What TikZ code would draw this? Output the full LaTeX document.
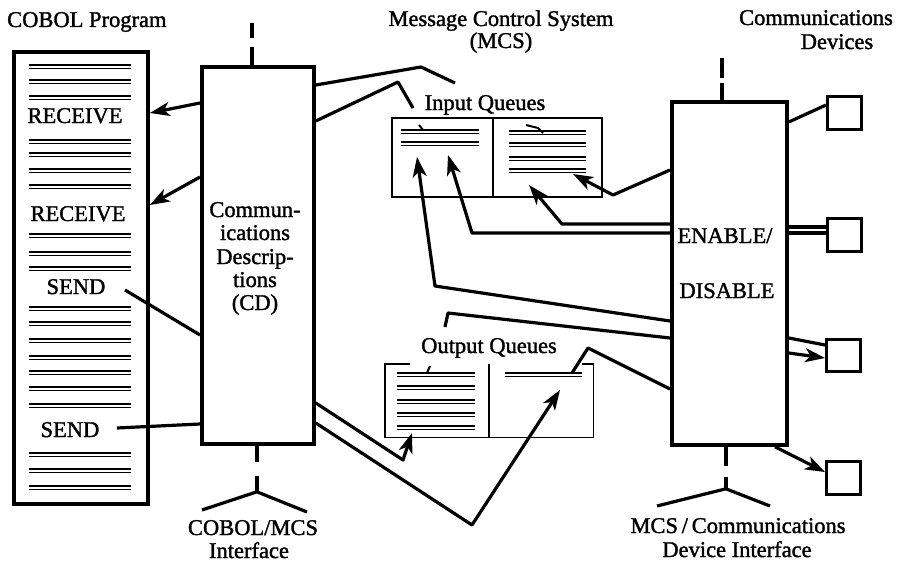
\documentclass[tikz,border=0pt]{standalone}
\usepackage{fontspec}
\setmainfont{Liberation Serif}[FakeBold=1.5]
\usetikzlibrary{arrows.meta}

% a listing line: heavy rule with a hairline just below it
\newcommand\qline[4][2.1pt]{%
  \draw[line width=#1] (#2,#4) -- (#3,#4);
  \draw[line width=1.3pt] (#2,#4+3.4) -- (#3,#4+3.4);}

\begin{document}
\begin{tikzpicture}[x=1pt,y=-1pt,
  lbl/.style={font=\fontsize{22.5}{24}\selectfont, inner sep=0pt, anchor=base},
  bigbox/.style={draw, line width=3.8pt, inner sep=0pt, anchor=north west},
  queue/.style={inner sep=0pt, anchor=north west},
  thin/.style={line width=1.5pt},
  dev/.style={draw, line width=3.2pt, inner sep=0pt, anchor=north west},
  wire/.style={line width=3.2pt, line join=round},
  arr/.style={wire, -{Stealth[length=20pt,width=14pt,inset=5.5pt]}},
]
\fill[white] (0,0) rectangle (906,562);
\useasboundingbox (0,0) rectangle (906,562);

% ---- headings
\node[lbl, anchor=base west] (hcobol) at (7,27) {COBOL Program};
\node[lbl] (hmcs1) at (501,26) {Message Control System};
\node[lbl] (hmcs2) at (501,48) {(MCS)};
\node[lbl] (hdev1) at (816,25) {Communications};
\node[lbl] (hdev2) at (837,49) {Devices};

% ---- COBOL program listing
\node[bigbox, minimum width=134pt, minimum height=452pt] (cobol) at (12,50) {};
\foreach \y in {65,80,96,140,153,169,185,234,252,267,307,322,339,356,371,387,404,453,469,486}
  {\qline{29}{131}{\y}}
\node[lbl] (rcv1) at (75,123) {RECEIVE};
\node[lbl] (rcv2) at (78,221) {RECEIVE};
\node[lbl] (snd1) at (76,294) {SEND};
\node[lbl] (snd2) at (70,437) {SEND};

% ---- communications descriptions
\node[bigbox, minimum width=112pt, minimum height=377pt] (cd) at (200,65) {};
\node[lbl] (cdl1) at (255,217) {Commun-};
\node[lbl] (cdl2) at (255,240) {ications};
\node[lbl] (cdl3) at (255,264) {Descrip-};
\node[lbl] (cdl4) at (255,287) {tions};
\node[lbl] (cdl5) at (255,310) {(CD)};

% ---- enable / disable
\node[bigbox, minimum width=115pt, minimum height=343pt] (enable) at (670,100) {};
\node[lbl] (en1) at (725,243) {ENABLE/};
\node[lbl] (en2) at (727,298) {DISABLE};

% ---- devices
\node[dev, minimum width=34pt, minimum height=33pt] (d1) at (826,95) {};
\node[dev, minimum width=34pt, minimum height=33pt] (d2) at (826,217) {};
\node[dev, minimum width=34pt, minimum height=32pt] (d3) at (825,338) {};
\node[dev, minimum width=34pt, minimum height=33pt] (d4) at (825,460) {};

% ---- input queues
\node[queue, draw, thin, minimum width=210pt, minimum height=79pt] (inq) at (391,117) {};
\draw[thin] (inq.north -| 493,0) -- (inq.south -| 493,0);
\foreach \y in {130,142} {\qline{401}{479}{\y}}
\foreach \y in {131,143,157,169} {\qline{509}{586}{\y}}
\draw[line width=2pt] (419,125) -- (423,130);
\draw[line width=2pt] (526,125) -- (538,128) -- (543,133);
\node[lbl] (hin) at (485,110) {Input Queues};

% ---- output queues (top edge only at the corners)
\node[queue, minimum width=208pt, minimum height=73pt] (outq) at (385,364) {};
\draw[thin] ([xshift=25pt]outq.north west) -- (outq.north west) -- (outq.south west)
  -- (outq.south east) -- (outq.north east) -- ([xshift=-11pt]outq.north east);
\draw[thin] (outq.north -| 489,0) -- (outq.south -| 489,0);
\foreach \y in {373,386,400,413,426} {\qline{397}{475}{\y}}
\qline{505}{582}{373}
\draw[line width=2pt] (427,373) -- (430,366);
\node[lbl] (hout) at (489,353) {Output Queues};

% ---- interface stubs
\draw[wire] ([xshift=-6pt]cd.north) -- ++(0,-18) ++(0,-9) -- ++(0,-15);
\draw[wire] ([xshift=-1pt]cd.south) -- ++(0,16) ++(0,14) -- ++(0,16) coordinate (cdj);
\draw[wire] (202,510) -- (cdj) -- (307,512);
\node[lbl] (if1) at (253,535) {COBOL/MCS};
\node[lbl] (if2) at (249,558) {Interface};

\draw[wire] ([xshift=-7.5pt]enable.north) -- ++(0,-17) ++(0,-5) -- ++(0,-20);
\draw[wire] ([xshift=-3.5pt]enable.south) -- ++(0,19) ++(0,11) -- ++(0,12) coordinate (enj);
\draw[wire] (657,506) -- (enj) -- (770,506);
\node[lbl] (if3) at (738,533) {MCS\,/\,Communications};
\node[lbl] (if4) at (737,557) {Device Interface};

% ---- CD and the program
\draw[arr] (cd.west |- 0,103) -- (cobol.east |- 0,113);
\draw[arr] (cd.west |- 0,177) -- (cobol.east |- 0,205);
\draw[wire] (125,290) -- (cd.west |- 0,335);
\draw[wire] (117,428) -- (cd.west |- 0,424);

% ---- CD and the queues
\draw[wire] (cd.east |- 0,85) -- (421,67) -- (455,83);
\draw[wire] (cd.east |- 0,121) -- (398,82) -- (413,108);
\draw[arr] (cd.east |- 0,403) -- (403,460) -- (412,433);
\draw[arr] (cd.east |- 0,423) -- (472,525) -- (560,390);

% ---- ENABLE/DISABLE and the queues
\draw[arr] (enable.west |- 0,321) -- (435,286) -- (417,157);
\draw[arr] (enable.west |- 0,233) -- (472,233) -- (448,155);
\draw[arr] (enable.west |- 0,224) -- (562,224) -- (529,185);
\draw[arr] (enable.west |- 0,170) -- (613,195) -- (573,174);
\draw[wire] (enable.west |- 0,338) -- (448,313) -- (445,327);
\draw[wire] (enable.west |- 0,389) -- (588,348) -- (572,373);

% ---- ENABLE/DISABLE and the devices
\draw[wire] (enable.east |- 0,122) -- (d1.west |- 0,105);
\draw[wire] (enable.east |- 0,227) -- (d2.west |- 0,227);
\draw[wire] (enable.east |- 0,233) -- (d2.west |- 0,233);
\draw[wire] (enable.east |- 0,338) -- (d3.west |- 0,345);
\draw[arr] (enable.east |- 0,353) -- (d3.west |- 0,358);
\draw[arr] (enable.south -| 775,0) -- (d4.west |- 0,472);
\end{tikzpicture}
\end{document}
